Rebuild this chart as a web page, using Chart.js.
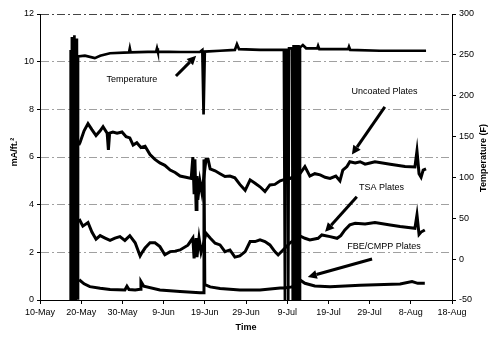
<!DOCTYPE html>
<html>
<head>
<meta charset="utf-8">
<script src="https://cdn.jsdelivr.net/npm/chart.js@4/dist/chart.umd.min.js"></script>
<style>
  html, body { margin: 0; padding: 0; background: #fff; }
  #wrap { width: 500px; height: 361px; }
</style>
</head>
<body>
<div id="wrap"><canvas id="chart" width="500" height="361"></canvas></div>
<script>
// x values are days after 10-May
const xTickLabels = ['10-May','20-May','30-May','9-Jun','19-Jun','29-Jun','9-Jul','19-Jul','29-Jul','8-Aug','18-Aug'];

// Temperature (F), right axis
const tempDays = [7.3,7.45,7.6,7.75,7.9,8.05,8.2,8.35,8.5,8.65,8.8,8.95,9.1,9.22,
  10.9,13.3,14.6,17,21.6,21.8,22.0,28.2,28.4,28.6,34,38.8,39.4,39.7,40.0,43.7,47.3,47.8,48.3,53.4,59.2,
  59.45,59.6,60.1,60.25,60.45,61.2,61.35,61.55,61.75,61.95,62.15,62.35,62.55,62.75,62.95,
  63.1,63.8,64.6,67.3,67.5,67.8,74.8,75.0,75.3,82.5,93.7];
const tempF = [-50,256,-50,272,-50,266,-45,274,-50,262,-42,270,-48,248,
  249,246,249,252,253,258,253,254,258,254,253.5,253.5,256,177,254,255,256,263,257,256,256,
  -50,256,256,-50,258,258,-50,262,-50,262,-50,262,-50,262,-50,
  259,262,258,258,261,257,257,260,256,255,255];

// Uncoated plates (mA/ft2)
const uncoatedDays = [9.4,9.7,10.7,11.65,12.6,13.6,14.6,15.3,16.3,16.6,16.9,17.7,18.7,19.9,20.9,21.8,22.6,23.5,24.5,25.5,
  26.7,27.9,29.1,30.3,31.6,32.8,34,35.4,36.7,37.1,37.4,37.6,37.9,38.1,38.3,38.8,39.3,40.3,40.8,41.3,42.5,43.7,44.9,
  46.1,47.3,48.5,49.8,51,52.2,53.4,54.6,55.8,57,58.3,59.2,60.7,63.1,64.3,65.5,66.7,68,69.2,70.4,71.8,72.8,73.5,74.5,
  75.2,76.5,77.7,78.9,80.1,81.3,85,88.6,91,91.5,92,92.5,93,93.7];
const uncoatedVals = [6.5,6.6,7.1,7.4,7.15,6.9,7.1,7.27,7.0,6.3,7.0,7.05,7.0,7.05,6.85,6.8,6.5,6.6,6.4,6.45,
  6.1,5.9,5.75,5.65,5.45,5.35,5.2,5.15,5.1,6.0,4.5,5.9,3.8,5.2,4.2,5.0,4.5,5.9,5.9,5.5,5.42,5.3,5.18,
  5.2,5.13,4.85,4.6,5.04,4.9,4.75,4.55,4.83,4.85,5.0,5.05,5.1,5.3,5.6,5.2,5.3,5.25,5.15,5.1,5.2,5.0,5.45,5.6,
  5.8,5.75,5.8,5.7,5.75,5.8,5.7,5.6,5.58,6.25,5.3,5.15,5.45,5.5];

// TSA plates
const tsaDays = [9.5,10.4,11.65,12.6,13.6,14.6,15.8,17,18.2,19.4,20.6,21.8,23.1,24.3,24.8,25.5,26.7,27.9,29.1,30.3,31.6,
  32.8,34,35.9,37.1,37.4,37.9,38.1,38.6,39.1,39.6,40.3,41.3,42.5,43.7,44.9,46.1,47.3,48.5,49.8,51,52.2,53.4,54.6,
  55.8,57,57.8,59,60.7,63.1,64.3,65.5,67.5,68.4,70.4,72.1,73,74,75.2,76.5,78.9,81.3,85,87.4,91,91.5,92,92.5,93.4];
const tsaVals = [3.4,3.1,3.25,2.85,2.55,2.7,2.6,2.5,2.6,2.66,2.5,2.7,2.4,1.85,2.0,2.18,2.4,2.4,2.24,1.9,2.03,
  2.05,2.1,2.3,2.6,1.75,2.6,1.8,2.6,2.0,2.3,2.8,2.6,2.38,2.31,2.03,2.1,1.8,1.85,2.03,2.45,2.45,2.52,2.45,
  2.31,2.03,1.89,2.1,2.4,2.69,2.59,2.52,2.59,2.73,2.66,2.59,2.7,2.94,3.15,3.22,3.19,3.25,3.15,3.08,3.01,3.57,2.75,2.85,2.94];

// FBE/CMPP plates
const fbeDays = [9.5,10.7,12.1,14.6,17,20.6,21.1,21.6,23.1,24.3,24.5,25.2,29.1,34,38.8,39.6,39.8,40.0,41.3,43.7,
  48.5,53.4,58.3,59.2,61.2,63.1,64.3,66.7,70.4,77.7,87.4,90.3,91.7,93.4];
const fbeVals = [0.85,0.68,0.56,0.49,0.44,0.42,0.58,0.44,0.42,0.45,0.78,0.58,0.42,0.36,0.3,0.3,5.9,0.65,0.55,0.48,
  0.42,0.42,0.5,0.5,0.55,0.84,0.7,0.59,0.56,0.62,0.67,0.77,0.7,0.7];

const pts = (xs, ys) => xs.map((d, i) => ({ x: d, y: ys[i] }));

const font = '"Liberation Sans", Arial, sans-serif';

// Callout labels and arrows, in data units (day, mA/ft2)
const notes = [
  { text: 'Temperature',     at: [22.3, 9.24], from: [33.0, 9.4],  to: [37.9, 10.25] },
  { text: 'Uncoated Plates', at: [83.6, 8.74], from: [83.7, 8.1],  to: [75.7, 6.1] },
  { text: 'TSA Plates',      at: [82.9, 4.7],  from: [76.9, 4.33], to: [69.2, 2.86] },
  { text: 'FBE/CMPP Plates', at: [83.5, 2.23], from: [80.6, 1.72], to: [65.0, 0.97] }
];

function drawArrow(ctx, x1, y1, x2, y2) {
  const ang = Math.atan2(y2 - y1, x2 - x1);
  const head = 9, half = 4.5;
  const bx = x2 - head * Math.cos(ang), by = y2 - head * Math.sin(ang);
  ctx.beginPath();
  ctx.moveTo(x1, y1);
  ctx.lineTo(bx, by);
  ctx.stroke();
  ctx.beginPath();
  ctx.moveTo(x2, y2);
  ctx.lineTo(bx + half * Math.sin(ang), by - half * Math.cos(ang));
  ctx.lineTo(bx - half * Math.sin(ang), by + half * Math.cos(ang));
  ctx.closePath();
  ctx.fill();
}

const notesPlugin = {
  id: 'notes',
  afterDraw(chart) {
    const { ctx, chartArea, scales: { x, y } } = chart;
    ctx.save();
    ctx.fillStyle = '#000';
    ctx.strokeStyle = '#000';
    ctx.lineWidth = 3;
    ctx.font = '9px ' + font;
    ctx.textAlign = 'center';
    ctx.textBaseline = 'middle';
    notes.forEach(n => {
      ctx.fillText(n.text, x.getPixelForValue(n.at[0]), y.getPixelForValue(n.at[1]));
      drawArrow(ctx,
        x.getPixelForValue(n.from[0]), y.getPixelForValue(n.from[1]),
        x.getPixelForValue(n.to[0]), y.getPixelForValue(n.to[1]));
    });

    // axis titles
    ctx.font = 'bold 9px ' + font;
    ctx.fillText('Time', (chartArea.left + chartArea.right) / 2, 328);
    ctx.save();
    ctx.translate(15, 152);
    ctx.rotate(-Math.PI / 2);
    ctx.fillText('mA/ft.²', 0, 0);
    ctx.restore();
    ctx.save();
    ctx.translate(484, 158);
    ctx.rotate(-Math.PI / 2);
    ctx.fillText('Temperature (F)', 0, 0);
    ctx.restore();
    ctx.restore();
  }
};

const lineStyle = {
  borderColor: '#000',
  backgroundColor: '#000',
  borderWidth: 3,
  pointRadius: 0,
  tension: 0,
  fill: false
};

new Chart(document.getElementById('chart'), {
  type: 'line',
  data: {
    datasets: [
      Object.assign({ label: 'Temperature', data: pts(tempDays, tempF), yAxisID: 'y2' }, lineStyle, { borderWidth: 2.7 }),
      Object.assign({ label: 'Uncoated Plates', data: pts(uncoatedDays, uncoatedVals), yAxisID: 'y' }, lineStyle),
      Object.assign({ label: 'TSA Plates', data: pts(tsaDays, tsaVals), yAxisID: 'y' }, lineStyle),
      Object.assign({ label: 'FBE/CMPP Plates', data: pts(fbeDays, fbeVals), yAxisID: 'y' }, lineStyle)
    ]
  },
  options: {
    responsive: false,
    animation: false,
    devicePixelRatio: 1,
    layout: { padding: { top: 14, left: 0, right: 0, bottom: 0 } },
    plugins: { legend: { display: false }, tooltip: { enabled: false } },
    scales: {
      x: {
        type: 'linear',
        min: 0,
        max: 100,
        afterFit: s => { s.height = 61; },
        ticks: {
          stepSize: 10,
          color: '#000',
          padding: 3,
          maxRotation: 0,
          font: { family: font, size: 9 },
          callback: v => xTickLabels[Math.round(v / 10)]
        },
        grid: { drawOnChartArea: false, drawTicks: true, tickLength: 4, tickColor: '#000' },
        border: { color: '#000', width: 1 }
      },
      y: {
        position: 'left',
        min: 0,
        max: 12,
        afterFit: s => { s.width = 40; },
        ticks: {
          stepSize: 2,
          color: '#000',
          padding: 3,
          font: { family: font, size: 9 }
        },
        grid: {
          color: c => c.tick.value === 0 ? 'rgba(0,0,0,0)' : (c.tick.value === 12 ? '#444' : '#a0a0a0'),
          lineWidth: 1,
          tickLength: 3,
          tickColor: '#000'
        },
        border: { color: '#000', width: 1, dash: [8, 3, 2, 3] }
      },
      y2: {
        position: 'right',
        min: -50,
        max: 300,
        afterFit: s => { s.width = 48; },
        ticks: {
          stepSize: 50,
          color: '#000',
          padding: 3,
          font: { family: font, size: 9 }
        },
        grid: { drawOnChartArea: false, tickLength: 4, tickColor: '#000' },
        border: { color: '#000', width: 1 }
      }
    }
  },
  plugins: [notesPlugin]
});
</script>
</body>
</html>
